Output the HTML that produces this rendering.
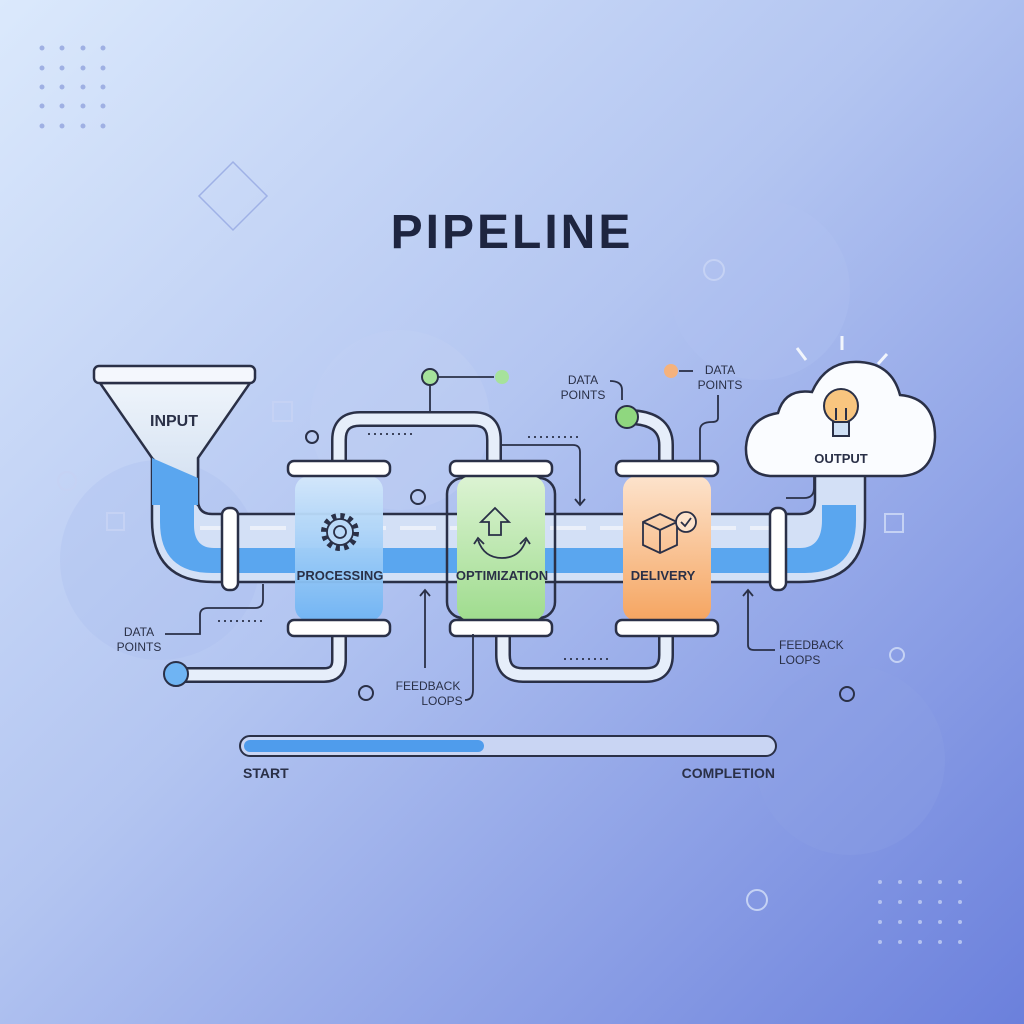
<!DOCTYPE html>
<html><head><meta charset="utf-8"><style>
html,body{margin:0;padding:0;width:1024px;height:1024px;overflow:hidden}
svg{display:block}
text{font-family:"Liberation Sans",sans-serif;fill:#2a3047}
</style></head><body>
<svg width="1024" height="1024" viewBox="0 0 1024 1024" xmlns="http://www.w3.org/2000/svg">
<defs>
<linearGradient id="bg" x1="0" y1="0" x2="1" y2="1">
<stop offset="0" stop-color="#dbe9fc"/><stop offset="0.45" stop-color="#b3c5f1"/><stop offset="1" stop-color="#6b80dc"/>
</linearGradient>
<linearGradient id="gb" x1="0" y1="0" x2="0" y2="1"><stop offset="0" stop-color="#d4e8fb"/><stop offset="1" stop-color="#6fb4f3"/></linearGradient>
<linearGradient id="gg" x1="0" y1="0" x2="0" y2="1"><stop offset="0" stop-color="#dcf3d3"/><stop offset="1" stop-color="#9fdc8e"/></linearGradient>
<linearGradient id="go" x1="0" y1="0" x2="0" y2="1"><stop offset="0" stop-color="#fde3cc"/><stop offset="1" stop-color="#f5a561"/></linearGradient>
<linearGradient id="gf" x1="0" y1="0" x2="0" y2="1"><stop offset="0" stop-color="#eef4fb"/><stop offset="1" stop-color="#d0def0"/></linearGradient>
</defs>
<rect width="1024" height="1024" fill="url(#bg)"/>
<circle cx="400" cy="420" r="90" fill="#c4d2f4" opacity="0.35"/>
<circle cx="160" cy="560" r="100" fill="#aabdee" opacity="0.3"/>
<circle cx="850" cy="760" r="95" fill="#8ea2e6" opacity="0.3"/>
<circle cx="760" cy="290" r="90" fill="#b4c4f1" opacity="0.3"/>
<g fill="#9fb0e3">
<circle cx="42" cy="48" r="2.5"/><circle cx="62" cy="48" r="2.5"/><circle cx="83" cy="48" r="2.5"/><circle cx="103" cy="48" r="2.5"/>
<circle cx="42" cy="68" r="2.5"/><circle cx="62" cy="68" r="2.5"/><circle cx="83" cy="68" r="2.5"/><circle cx="103" cy="68" r="2.5"/>
<circle cx="42" cy="87" r="2.5"/><circle cx="62" cy="87" r="2.5"/><circle cx="83" cy="87" r="2.5"/><circle cx="103" cy="87" r="2.5"/>
<circle cx="42" cy="106" r="2.5"/><circle cx="62" cy="106" r="2.5"/><circle cx="83" cy="106" r="2.5"/><circle cx="103" cy="106" r="2.5"/>
<circle cx="42" cy="126" r="2.5"/><circle cx="62" cy="126" r="2.5"/><circle cx="83" cy="126" r="2.5"/><circle cx="103" cy="126" r="2.5"/>
</g>
<g fill="#b4c2ef">
<circle cx="880" cy="882" r="2"/><circle cx="900" cy="882" r="2"/><circle cx="920" cy="882" r="2"/><circle cx="940" cy="882" r="2"/><circle cx="960" cy="882" r="2"/>
<circle cx="880" cy="902" r="2"/><circle cx="900" cy="902" r="2"/><circle cx="920" cy="902" r="2"/><circle cx="940" cy="902" r="2"/><circle cx="960" cy="902" r="2"/>
<circle cx="880" cy="922" r="2"/><circle cx="900" cy="922" r="2"/><circle cx="920" cy="922" r="2"/><circle cx="940" cy="922" r="2"/><circle cx="960" cy="922" r="2"/>
<circle cx="880" cy="942" r="2"/><circle cx="900" cy="942" r="2"/><circle cx="920" cy="942" r="2"/><circle cx="940" cy="942" r="2"/><circle cx="960" cy="942" r="2"/>
</g>
<polygon points="233,162 267,196 233,230 199,196" fill="none" stroke="#9fb1e6" stroke-width="1.5"/>
<g fill="none" stroke="#c5d2f4" stroke-width="2">
<circle cx="714" cy="270" r="10"/><circle cx="67" cy="481" r="9"/><circle cx="897" cy="655" r="7"/><circle cx="757" cy="900" r="10"/>
<rect x="273" y="402" width="19" height="19"/><rect x="107" y="513" width="17" height="17"/><rect x="885" y="514" width="18" height="18"/>
</g>
<g fill="none" stroke="#2a3047" stroke-width="2">
<circle cx="312" cy="437" r="6"/><circle cx="418" cy="497" r="7"/><circle cx="366" cy="693" r="7"/><circle cx="847" cy="694" r="7"/>
</g>
<text x="512" y="248" text-anchor="middle" font-size="48" font-weight="bold" style="fill:#1e2540;letter-spacing:3px">PIPELINE</text>

<path d="M339,462 V440 Q339,419 360,419 H474 Q494,419 494,440 V462" fill="none" stroke="#2a3047" stroke-width="16"/>
<path d="M339,462 V440 Q339,419 360,419 H474 Q494,419 494,440 V462" fill="none" stroke="#e6eefa" stroke-width="11"/>
<path d="M627,417 Q666,417 666,445 V462" fill="none" stroke="#2a3047" stroke-width="16"/>
<path d="M627,417 Q666,417 666,445 V462" fill="none" stroke="#e6eefa" stroke-width="11"/>
<path d="M339,634 V660 Q339,675 324,675 H176" fill="none" stroke="#2a3047" stroke-width="16"/>
<path d="M339,634 V660 Q339,675 324,675 H176" fill="none" stroke="#e6eefa" stroke-width="11"/>
<path d="M503,634 V655 Q503,675 523,675 H646 Q666,675 666,655 V634" fill="none" stroke="#2a3047" stroke-width="16"/>
<path d="M503,634 V655 Q503,675 523,675 H646 Q666,675 666,655 V634" fill="none" stroke="#e6eefa" stroke-width="11"/>

<path d="M152,456 V520 Q152,582 214,582 H800 Q865,582 865,520 V474 H815 V500 Q815,514 800,514 H212 Q198,514 198,500 V456 Z" fill="#d3e0f6" stroke="#2a3047" stroke-width="2.5"/>
<path d="M160,505 V522 Q160,573 212,573 H805 Q856,573 856,520 V505 H822 V520 Q822,548 800,548 H214 Q194,548 194,525 V505 Z" fill="#5aa6ef"/>
<line x1="200" y1="528" x2="800" y2="528" stroke="#f1f5fc" stroke-width="4" stroke-dasharray="36 14" opacity="0.8"/>
<path d="M100,383 L250,383 L198,458 V505 L152,458 Z" fill="url(#gf)" stroke="#2a3047" stroke-width="2.5"/>
<path d="M152,458 L198,478 V505 L152,505 Z" fill="#5aa6ef"/>
<rect x="94" y="366" width="161" height="17" rx="5" fill="#f4f7fd" stroke="#2a3047" stroke-width="2.5"/>
<text x="174" y="426" text-anchor="middle" font-size="16" font-weight="bold">INPUT</text>
<rect x="222" y="508" width="16" height="82" rx="7" fill="#fff" stroke="#2a3047" stroke-width="2.5"/>
<rect x="770" y="508" width="16" height="82" rx="7" fill="#fff" stroke="#2a3047" stroke-width="2.5"/>

<path d="M770,476 Q745,474 746,447 Q748,418 778,413 Q785,388 812,392 Q826,360 860,362 Q892,364 900,395 Q935,398 935,437 Q934,474 902,476 Z" fill="#fafcff" stroke="#2a3047" stroke-width="2.5"/>
<g stroke="#2a3047" stroke-width="2">
<circle cx="841" cy="406" r="17" fill="#f8c57f"/>
<rect x="833" y="422" width="16" height="14" fill="#cfe0f5"/>
<path d="M836,420 V408 M846,420 V408" fill="none"/>
</g>
<g stroke="#f1f5fc" stroke-width="3"><line x1="842" y1="336" x2="842" y2="350"/><line x1="797" y1="348" x2="806" y2="360"/><line x1="887" y1="354" x2="878" y2="364"/></g>
<text x="841" y="463" text-anchor="middle" font-size="13" font-weight="bold">OUTPUT</text>

<rect x="295" y="476" width="88" height="145" rx="14" fill="url(#gb)" opacity="0.95"/>
<rect x="447" y="478" width="108" height="140" rx="16" fill="none" stroke="#2a3047" stroke-width="2.5"/>
<rect x="457" y="476" width="88" height="145" rx="14" fill="url(#gg)"/>
<rect x="623" y="476" width="88" height="145" rx="14" fill="url(#go)"/>
<g fill="#fff" stroke="#2a3047" stroke-width="2.5">
<rect x="288" y="461" width="102" height="15" rx="6"/><rect x="288" y="620" width="102" height="16" rx="6"/>
<rect x="450" y="461" width="102" height="15" rx="6"/><rect x="450" y="620" width="102" height="16" rx="6"/>
<rect x="616" y="461" width="102" height="15" rx="6"/><rect x="616" y="620" width="102" height="16" rx="6"/>
</g>
<g fill="none" stroke="#2a3047" stroke-width="1.8">
<circle cx="340" cy="532" r="16" stroke-width="6" stroke-dasharray="4.2 4.2"/>
<circle cx="340" cy="532" r="13" fill="#b9d9f8"/><circle cx="340" cy="532" r="6"/>
<path d="M495,508 L481,522 H489 V535 H501 V522 H509 Z"/>
<path d="M478,540 Q484,558 502,558 Q520,558 526,540"/>
<path d="M474,544 L478,538 L484,544 M520,544 L526,538 L530,544"/>
<path d="M643,522 L660,514 L677,522 L677,545 L660,553 L643,545 Z M643,522 L660,530 L677,522 M660,530 V553"/>
<circle cx="686" cy="522" r="10" fill="#fde3cc"/><path d="M681,522 L685,526 L691,518"/>
</g>
<text x="340" y="580" text-anchor="middle" font-size="13" font-weight="bold">PROCESSING</text>
<text x="502" y="580" text-anchor="middle" font-size="13" font-weight="bold">OPTIMIZATION</text>
<text x="663" y="580" text-anchor="middle" font-size="13" font-weight="bold">DELIVERY</text>

<g fill="none" stroke="#2a3047" stroke-width="1.8">
<path d="M430,385 V412"/><path d="M438,377 H494"/>
<path d="M500,445 H573 Q580,445 580,452 V505"/><path d="M575,499 L580,505 L585,499"/>
<path d="M425,668 V590"/><path d="M420,596 L425,590 L430,596"/>
<path d="M465,700 Q473,700 473,690 V634"/>
<path d="M748,590 V645 Q748,650 754,650 H775"/><path d="M743,596 L748,590 L753,596"/>
<path d="M263,584 V600 Q263,608 255,608 H208 Q200,608 200,615 V634 H165"/>
<path d="M610,381 Q622,381 622,390 V400"/>
<path d="M679,371 H693"/><path d="M718,395 V418 Q718,422 712,422 Q700,422 700,430 V461"/>
<path d="M814,476 V488 Q814,498 804,498 H786"/>
</g>
<g stroke="#2a3047" stroke-width="1.8" stroke-dasharray="2 4">
<line x1="368" y1="434" x2="412" y2="434"/><line x1="528" y1="437" x2="578" y2="437"/>
<line x1="218" y1="621" x2="262" y2="621"/><line x1="564" y1="659" x2="608" y2="659"/>
</g>
<circle cx="430" cy="377" r="8" fill="#a6e29b" stroke="#2a3047" stroke-width="2"/>
<circle cx="502" cy="377" r="7" fill="#a6e29b"/>
<circle cx="627" cy="417" r="11" fill="#8fd77f" stroke="#2a3047" stroke-width="2"/>
<circle cx="671" cy="371" r="7" fill="#f5b27c"/>
<circle cx="176" cy="674" r="12" fill="#6fb4f3" stroke="#2a3047" stroke-width="2"/>

<g font-size="12">
<text x="139" y="636" text-anchor="middle">DATA</text><text x="139" y="651" text-anchor="middle">POINTS</text>
<text x="583" y="384" text-anchor="middle">DATA</text><text x="583" y="399" text-anchor="middle">POINTS</text>
<text x="720" y="374" text-anchor="middle">DATA</text><text x="720" y="389" text-anchor="middle">POINTS</text>
<text x="428" y="690" text-anchor="middle">FEEDBACK</text><text x="442" y="705" text-anchor="middle">LOOPS</text>
<text x="779" y="649">FEEDBACK</text><text x="779" y="664">LOOPS</text>
</g>
<rect x="240" y="736" width="536" height="20" rx="10" fill="#c9d5f3" stroke="#2a3047" stroke-width="2"/>
<rect x="244" y="740" width="240" height="12" rx="6" fill="#4f9cec"/>
<text x="243" y="778" font-size="14" font-weight="bold">START</text>
<text x="775" y="778" font-size="14" font-weight="bold" text-anchor="end">COMPLETION</text>
</svg>
</body></html>
